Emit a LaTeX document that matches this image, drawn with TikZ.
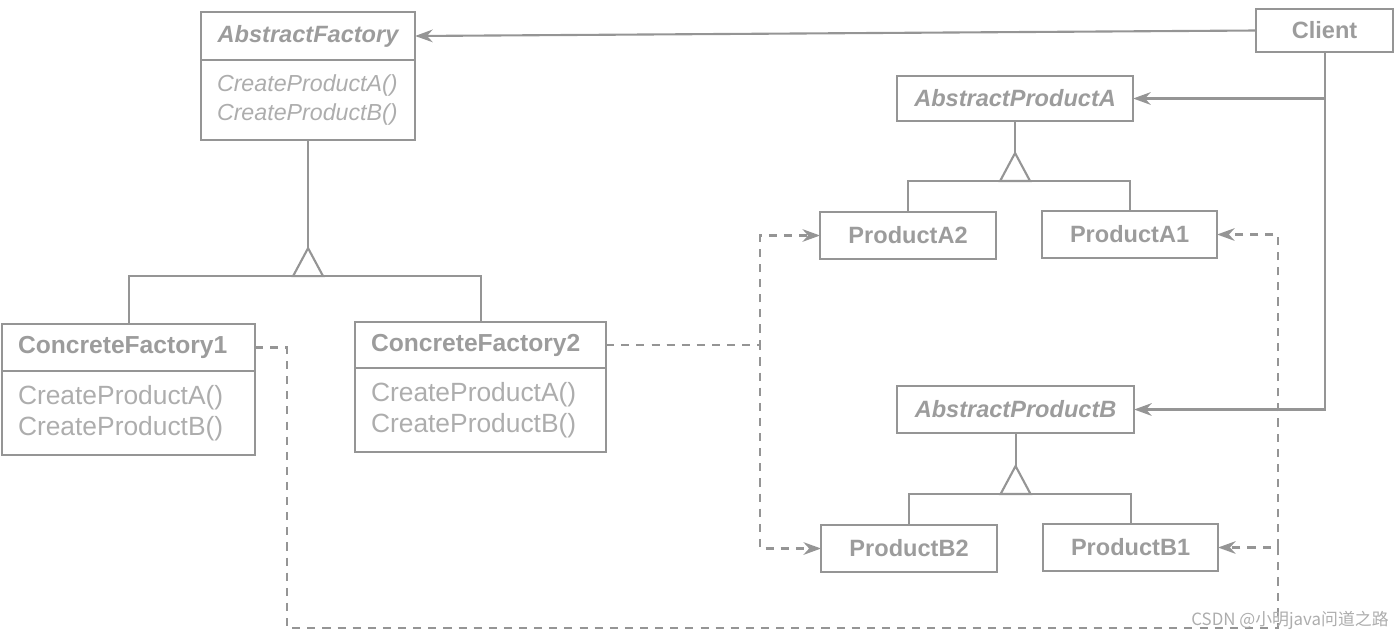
\documentclass[tikz,border=0pt]{standalone}
\usepackage{fontspec}
\setmainfont{Liberation Sans}
\newfontfamily\cjk{Noto Sans CJK SC}
\usetikzlibrary{arrows.meta}
\definecolor{linegray}{HTML}{959595}
\definecolor{titlegray}{HTML}{9C9C9C}
\definecolor{methgray}{HTML}{ADADAD}

\begin{document}
\begin{tikzpicture}[
    x=0.01cm, y=-0.01cm,
    line width=0.6pt, color=linegray,
    box/.style={draw, inner sep=0pt, outer sep=0pt, text=titlegray, font=\fontsize{6.7}{8}\selectfont\bfseries},
    abox/.style={box, font=\fontsize{6.7}{8}\selectfont\bfseries\itshape},
    meth/.style={draw, anchor=north, align=left, inner xsep=1.6mm, inner ysep=0pt, outer sep=0pt, text=methgray, font=\fontsize{7.5}{9}\selectfont},
    uses/.style={-{Stealth[length=5pt,width=3.6pt]}},
    dep/.style={uses, dash pattern=on 2.3pt off 2pt}
]
    \useasboundingbox (0,0) rectangle (1400,637);

    % Fabricas
    \node[abox, minimum width=2.14cm, minimum height=0.48cm, anchor=north west] (aft) at (201,12) {AbstractFactory};
    \node[meth, font=\fontsize{6.6}{8.5}\selectfont\itshape, text width=1.82cm, minimum height=0.80cm] (afm) at (aft.south) {CreateProductA()\\CreateProductB()};
    \node[box, font=\fontsize{7}{8}\selectfont\bfseries, align=left, text width=2.21cm, inner xsep=1.6mm, minimum height=0.47cm, anchor=north west] (cf1t) at (2,324) {ConcreteFactory1};
    \node[meth, text width=2.21cm, minimum height=0.84cm] (cf1m) at (cf1t.south) {CreateProductA()\\CreateProductB()};
    \node[box, font=\fontsize{7}{8}\selectfont\bfseries, align=left, text width=2.19cm, inner xsep=1.6mm, minimum height=0.46cm, anchor=north west] (cf2t) at (355,322) {ConcreteFactory2};
    \node[meth, text width=2.19cm, minimum height=0.84cm] (cf2m) at (cf2t.south) {CreateProductA()\\CreateProductB()};

    % Cliente y productos
    \node[box, minimum width=1.37cm, minimum height=0.43cm, anchor=north west] (client) at (1256,9) {Client};
    \node[abox, minimum width=2.36cm, minimum height=0.45cm, anchor=north west] (apa) at (897,76) {AbstractProductA};
    \node[box, minimum width=1.76cm, minimum height=0.47cm, anchor=north west] (pa2) at (820,212) {ProductA2};
    \node[box, minimum width=1.75cm, minimum height=0.47cm, anchor=north west] (pa1) at (1042,211) {ProductA1};
    \node[abox, minimum width=2.37cm, minimum height=0.47cm, anchor=north west] (apb) at (897,386) {AbstractProductB};
    \node[box, minimum width=1.76cm, minimum height=0.47cm, anchor=north west] (pb2) at (821,525) {ProductB2};
    \node[box, minimum width=1.75cm, minimum height=0.47cm, anchor=north west] (pb1) at (1043,524) {ProductB1};

    % Herencia
    \coordinate (tf) at ([yshift=-1.08cm]afm.south);
    \coordinate (tfb) at ([yshift=-0.28cm]tf);
    \draw (afm.south) -- (tf);
    \draw[fill=white] (tf) -- ++(-15,28) -- ++(30,0) -- cycle;
    \draw (cf1t.north) |- (tfb) -| (cf2t.north);

    \coordinate (ta) at ([yshift=-0.32cm]apa.south);
    \coordinate (tab) at ([yshift=-0.28cm]ta);
    \draw (apa.south) -- (ta);
    \draw[fill=white] (ta) -- ++(-15,28) -- ++(30,0) -- cycle;
    \draw (pa2.north) |- (tab) -| (pa1.north);

    \coordinate (tb) at ([yshift=-0.33cm]apb.south);
    \coordinate (tbb) at ([yshift=-0.28cm]tb);
    \draw (apb.south) -- (tb);
    \draw[fill=white] (tb) -- ++(-15,28) -- ++(30,0) -- cycle;
    \draw (pb2.north) |- (tbb) -| (pb1.north);

    % Asociaciones del cliente
    \draw[uses] (client.west) -- (aft.east);
    \draw[uses] (client.south) |- (apa.east);
    \draw[uses] (client.south) |- (apb.east);

    % Dependencias (creacion)
    \coordinate (j2) at (760,0);
    \draw[dep] (cf2t.east) -| (j2 |- pa2.west) -- (pa2.west);
    \draw[dep] (cf2t.east) -| (j2 |- pb2.west) -- (pb2.west);
    \coordinate (j1) at (287,628);
    \coordinate (j3) at (1278,628);
    \draw[dep] (cf1t.east) -| (j1) -- (j3) |- (pb1.east);
    \draw[dep] (j3 |- pb1.east) |- (pa1.east);

    \node[text=methgray, font=\cjk\fontsize{4.8}{6}\selectfont] (mark) at (1290,620) {CSDN @小明java问道之路};
\end{tikzpicture}
\end{document}
